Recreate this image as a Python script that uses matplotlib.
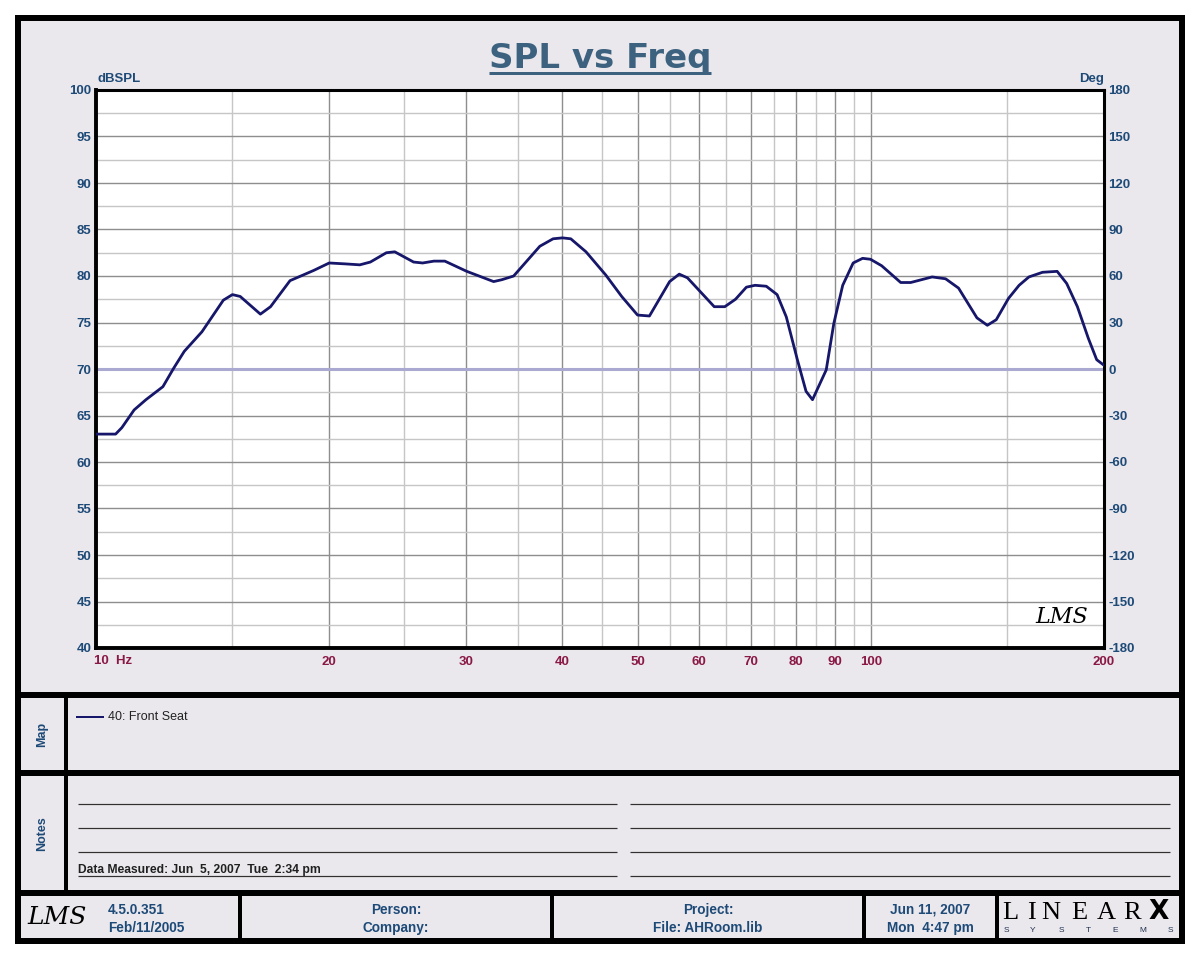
import matplotlib
matplotlib.use("Agg")
import matplotlib.pyplot as plt
from matplotlib.patches import Rectangle
from matplotlib.lines import Line2D

plt.rcParams["axes.unicode_minus"] = False

# ---------------- data ----------------
freq_hz = [10.0, 10.6, 10.8, 11.2, 11.6, 12.2, 12.6, 13.0, 13.7, 14.6, 15.0, 15.35,
           16.3, 16.8, 17.8, 18.5, 19.1, 20.0, 21.0, 21.9, 22.6, 23.7, 24.3, 25.7,
           26.4, 27.3, 28.2, 30.1, 32.6, 33.4, 34.6, 37.4, 38.9, 40.0, 41.0, 42.9,
           45.5, 47.7, 50.0, 51.8, 55.0, 56.6, 58.0, 62.8, 64.8, 66.9, 69.1, 70.9,
           73.3, 75.7, 77.8, 80.4, 82.5, 84.1, 87.6, 89.6, 92.0, 94.9, 97.6, 99.9,
           103.3, 109.3, 112.6, 120.0, 124.9, 129.8, 137.1, 141.4, 145.2, 150.6,
           155.4, 160.0, 166.6, 174.0, 179.0, 184.8, 190.9, 195.7, 200.0]
spl_db = [63.0, 63.0, 63.7, 65.6, 66.7, 68.1, 70.1, 71.9, 74.0, 77.4, 78.0, 77.8,
          75.9, 76.7, 79.5, 80.1, 80.6, 81.4, 81.3, 81.2, 81.5, 82.5, 82.6, 81.5,
          81.4, 81.6, 81.6, 80.5, 79.4, 79.6, 80.0, 83.2, 84.0, 84.1, 84.0, 82.6,
          80.1, 77.8, 75.8, 75.7, 79.4, 80.2, 79.8, 76.7, 76.7, 77.5, 78.8, 79.0,
          78.9, 78.0, 75.6, 71.0, 67.6, 66.7, 69.9, 74.9, 79.0, 81.4, 81.9, 81.8,
          81.1, 79.3, 79.3, 79.9, 79.7, 78.7, 75.5, 74.7, 75.3, 77.6,
          79.0, 79.9, 80.4, 80.5, 79.2, 76.7, 73.3, 71.0, 70.4]

x_major = [10, 20, 30, 40, 50, 60, 70, 80, 90, 100, 200]
x_major_labels = ["", "20", "30", "40", "50", "60", "70", "80", "90", "100", "200"]
x_minor = [15, 25, 35, 45, 55, 65, 75, 85, 95, 150]
y_left_ticks = list(range(40, 101, 5))
y_left_minor = [42.5 + 5 * i for i in range(12)]
y_right_ticks = list(range(-180, 181, 30))

title = "SPL vs Freq"
legend_label = "40: Front Seat"
notes_text = "Data Measured: Jun  5, 2007  Tue  2:34 pm"

# ---------------- styling ----------------
BG = "#EAE8EC"
BLUE = "#1E4A78"
TITLE_C = "#3D6280"
MAROON = "#8A1846"
CURVE = "#16166A"
FONT = ["Liberation Sans", "DejaVu Sans"]
NARROW = ["Liberation Sans Narrow", "Liberation Sans", "DejaVu Sans"]

W, H = 1200, 960
fig = plt.figure(figsize=(12, 9.6), dpi=100)
fig.patch.set_facecolor("white")

bg = fig.add_axes([0, 0, 1, 1])
bg.set_xlim(0, W)
bg.set_ylim(H, 0)
bg.axis("off")

PX = 0.72  # points per pixel

# outer frame
bg.add_patch(Rectangle((18, 18), 1164, 923, facecolor=BG, edgecolor="black",
                       lw=6 * PX, zorder=1))

def hline(y, x0, x1, lw, color="black"):
    bg.add_line(Line2D([x0, x1], [y, y], lw=lw * PX, color=color, zorder=2,
                       solid_capstyle="butt"))

def vline(x, y0, y1, lw, color="black"):
    bg.add_line(Line2D([x, x], [y0, y1], lw=lw * PX, color=color, zorder=2,
                       solid_capstyle="butt"))

# section dividers
hline(695, 18, 1182, 6)
hline(773, 18, 1182, 6)
hline(893, 18, 1182, 6)
vline(66, 695, 893, 4)
for xv in [240, 552, 864, 997]:
    vline(xv, 893, 941, 4)

# title
t = bg.text(600, 68, title, ha="center", va="baseline", fontsize=24.5,
            fontweight="bold", color=TITLE_C, family=["DejaVu Sans"], zorder=3)
fig.canvas.draw()
bb = t.get_window_extent(fig.canvas.get_renderer())
hline(73, bb.x0, bb.x1, 3, TITLE_C)

# axis unit labels
bg.text(97, 79, "dBSPL", ha="left", va="center", fontsize=9.5, fontweight="bold",
        color=BLUE, family=FONT)
bg.text(1104, 79, "Deg", ha="right", va="center", fontsize=9.5, fontweight="bold",
        color=BLUE, family=FONT)
bg.text(94, 661, "10  Hz", ha="left", va="center", fontsize=9.5, fontweight="bold",
        color=MAROON, family=FONT)

# ---------------- main plot ----------------
ax = fig.add_axes([96 / W, 1 - 648 / H, 1008 / W, 558 / H])
ax.set_facecolor("white")
ax.set_xscale("log")
ax.set_xlim(10, 200)
ax.set_ylim(40, 100)
ax.set_xticks(x_major)
ax.set_xticklabels(x_major_labels)
ax.set_xticks(x_minor, minor=True)
ax.set_xticklabels([], minor=True)
ax.set_yticks(y_left_ticks)
ax.set_yticks(y_left_minor, minor=True)
ax.grid(which="major", color="#8E8E8E", lw=1.0, zorder=0)
ax.grid(which="minor", color="#C6C6C6", lw=1.0, zorder=0)
ax.set_axisbelow(True)
ax.axhline(70, color="#A9A9D2", lw=2.2, zorder=1)
ax.plot(freq_hz, spl_db, color=CURVE, lw=2.0, zorder=3)
ax.tick_params(axis="both", which="both", length=0)
ax.tick_params(axis="x", pad=6, labelcolor=MAROON, labelsize=9.5)
ax.tick_params(axis="y", pad=3.5, labelcolor=BLUE, labelsize=9.5)
for lab in ax.get_xticklabels() + ax.get_yticklabels():
    lab.set_fontweight("bold")
    lab.set_family(FONT)
for s in ax.spines.values():
    s.set_color("black")
    s.set_linewidth(2.2)
ax.spines["left"].set_linewidth(2.8)
ax.spines["bottom"].set_linewidth(2.8)

ax2 = ax.twinx()
ax2.set_ylim(-180, 180)
ax2.set_yticks(y_right_ticks)
ax2.tick_params(axis="y", length=0, pad=3, labelcolor=BLUE, labelsize=9.5)
for lab in ax2.get_yticklabels():
    lab.set_fontweight("bold")
    lab.set_family(FONT)
for s in ax2.spines.values():
    s.set_visible(False)

# LMS logo in plot
ax.text(0.984, 0.035, "LMS", transform=ax.transAxes, ha="right", va="bottom",
        fontsize=16, fontstyle="italic", family=["DejaVu Serif"], color="black")

# ---------------- Map section ----------------
bg.text(42, 734, "Map", rotation=90, ha="center", va="center", fontsize=9,
        fontweight="bold", color=BLUE, family=FONT)
bg.add_line(Line2D([77, 103], [717, 717], lw=2 * PX, color=CURVE, zorder=3))
bg.text(108, 717, legend_label, ha="left", va="center", fontsize=9,
        color="#222222", family=FONT)

# ---------------- Notes section ----------------
bg.text(42, 834, "Notes", rotation=90, ha="center", va="center", fontsize=9,
        fontweight="bold", color=BLUE, family=FONT)
for yv in [804, 828, 852, 876]:
    hline(yv, 78, 617, 1.2, "#303030")
    hline(yv, 630, 1170, 1.2, "#303030")
bg.text(78, 870, notes_text, ha="left", va="center", fontsize=8.7,
        fontweight="bold", color="#202020", family=NARROW)

# ---------------- Footer ----------------
fkw = dict(fontsize=9.8, fontweight="bold", color=BLUE, family=NARROW)
bg.text(57, 917, "LMS", ha="center", va="center", fontsize=18,
        fontstyle="italic", family=["DejaVu Serif"], color="black")
bg.text(108, 910, "4.5.0.351", ha="left", va="center", **fkw)
bg.text(108, 928, "Feb/11/2005", ha="left", va="center", **fkw)
bg.text(396, 910, "Person:", ha="center", va="center", **fkw)
bg.text(396, 928, "Company:", ha="center", va="center", **fkw)
bg.text(708, 910, "Project:", ha="center", va="center", **fkw)
bg.text(708, 928, "File: AHRoom.lib", ha="center", va="center", **fkw)
bg.text(930, 910, "Jun 11, 2007", ha="center", va="center", **fkw)
bg.text(930, 928, "Mon  4:47 pm", ha="center", va="center", **fkw)

# LINEARX logo
for ch, xc in zip("LINEAR", [1010, 1031, 1051, 1079, 1106, 1132]):
    bg.text(xc, 913, ch, ha="center", va="center", fontsize=19,
            family=["Liberation Serif", "DejaVu Serif"], color="black")
bg.text(1159, 912, "X", ha="center", va="center", fontsize=19, fontweight="bold",
        family=["DejaVu Sans"], color="black")
for ch, xc in zip("SYSTEMS", [1006, 1033, 1061, 1088, 1115, 1143, 1170]):
    bg.text(xc, 931, ch, ha="center", va="center", fontsize=6,
            family=FONT, color="#1E3050")

fig.savefig("out.png", dpi=100, facecolor="white")
